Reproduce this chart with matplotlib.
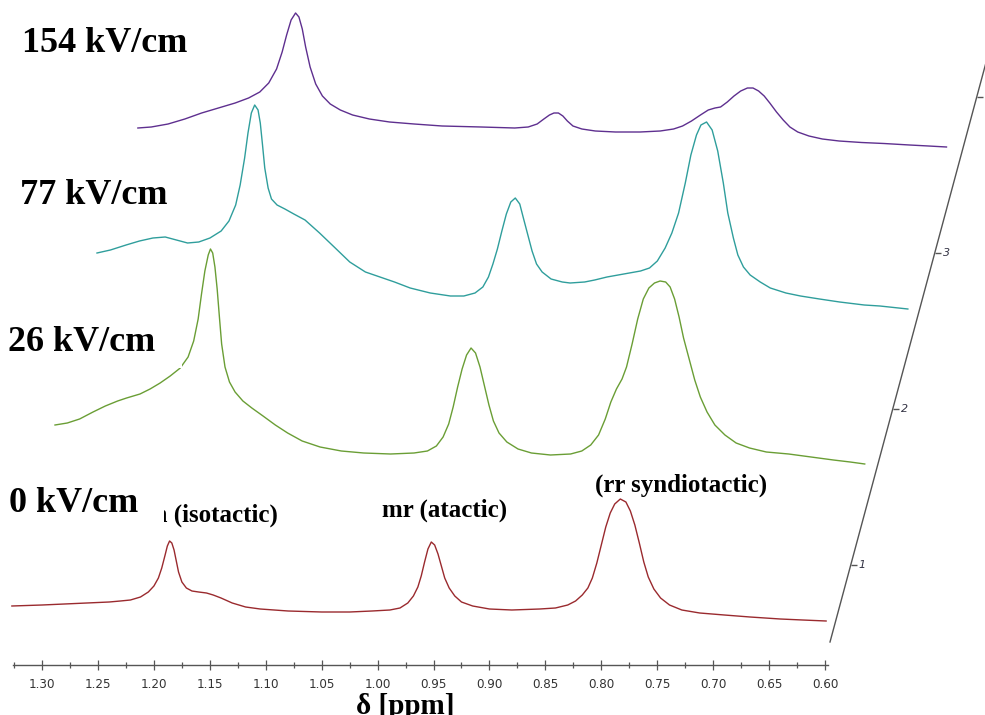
import numpy as np
import matplotlib
matplotlib.use("Agg")
import matplotlib.pyplot as plt
from matplotlib.transforms import Affine2D, offset_copy
from matplotlib.patches import Rectangle
from matplotlib.path import Path

# ---- spectra: shift (ppm) and intensity (a.u.) ----
ppm_0 = [1.327, 1.300, 1.280, 1.260, 1.240, 1.230, 1.221, 1.212, 1.205, 1.200, 1.196, 1.193, 1.190,
         1.188, 1.186, 1.184, 1.182, 1.180, 1.178, 1.175, 1.171, 1.166, 1.160, 1.153, 1.147, 1.140,
         1.130, 1.118, 1.105, 1.080, 1.050, 1.025, 1.005, 0.989, 0.980, 0.973, 0.968, 0.964, 0.961,
         0.958, 0.955, 0.952, 0.949, 0.946, 0.943, 0.940, 0.936, 0.931, 0.925, 0.915, 0.900, 0.880,
         0.855, 0.841, 0.830, 0.823, 0.817, 0.812, 0.808, 0.804, 0.800, 0.796, 0.792, 0.788, 0.783,
         0.778, 0.774, 0.770, 0.766, 0.762, 0.758, 0.753, 0.747, 0.739, 0.728, 0.712, 0.690, 0.667,
         0.640, 0.620, 0.599]
int_0 = [0.19, 0.20, 0.21, 0.22, 0.23, 0.24, 0.25, 0.28, 0.33, 0.39, 0.47, 0.57, 0.70,
         0.79, 0.84, 0.82, 0.75, 0.64, 0.53, 0.43, 0.37, 0.34, 0.33, 0.32, 0.30, 0.27,
         0.22, 0.18, 0.16, 0.14, 0.13, 0.13, 0.14, 0.15, 0.17, 0.22, 0.29, 0.38, 0.49,
         0.63, 0.76, 0.83, 0.80, 0.71, 0.59, 0.47, 0.37, 0.29, 0.23, 0.19, 0.16, 0.15,
         0.16, 0.17, 0.20, 0.24, 0.30, 0.37, 0.47, 0.62, 0.80, 0.98, 1.12, 1.21, 1.26,
         1.23, 1.14, 1.00, 0.82, 0.63, 0.48, 0.36, 0.27, 0.20, 0.15, 0.12, 0.10, 0.08,
         0.06, 0.05, 0.04]

ppm_26 = [1.326, 1.315, 1.304, 1.292, 1.281, 1.270, 1.262, 1.250, 1.241, 1.232, 1.223, 1.214, 1.207,
          1.202, 1.198, 1.195, 1.192, 1.189, 1.187, 1.185, 1.183, 1.181, 1.179, 1.177, 1.174, 1.170,
          1.165, 1.158, 1.150, 1.140, 1.129, 1.118, 1.105, 1.089, 1.070, 1.050, 1.026, 1.005, 0.993,
          0.985, 0.979, 0.974, 0.970, 0.966, 0.962, 0.958, 0.954, 0.950, 0.946, 0.942, 0.938, 0.934,
          0.929, 0.922, 0.912, 0.900, 0.883, 0.865, 0.855, 0.847, 0.840, 0.834, 0.829, 0.824, 0.819,
          0.815, 0.810, 0.805, 0.800, 0.795, 0.790, 0.785, 0.780, 0.776, 0.772, 0.768, 0.764, 0.759,
          0.754, 0.749, 0.743, 0.736, 0.727, 0.717, 0.705, 0.690, 0.670, 0.650, 0.630, 0.615, 0.602]
int_26 = [0.44, 0.46, 0.50, 0.57, 0.63, 0.68, 0.71, 0.75, 0.80, 0.86, 0.93, 1.01, 1.12,
          1.28, 1.50, 1.75, 1.98, 2.14, 2.20, 2.16, 2.02, 1.80, 1.52, 1.25, 1.02, 0.87,
          0.77, 0.68, 0.61, 0.53, 0.44, 0.36, 0.28, 0.22, 0.18, 0.16, 0.15, 0.16, 0.18,
          0.23, 0.32, 0.45, 0.62, 0.82, 1.00, 1.14, 1.21, 1.16, 1.02, 0.83, 0.64, 0.48,
          0.36, 0.27, 0.20, 0.16, 0.14, 0.15, 0.18, 0.24, 0.34, 0.50, 0.67, 0.80, 0.90,
          1.02, 1.25, 1.50, 1.70, 1.81, 1.86, 1.88, 1.87, 1.82, 1.70, 1.52, 1.31, 1.10,
          0.89, 0.72, 0.57, 0.44, 0.34, 0.26, 0.21, 0.17, 0.15, 0.12, 0.09, 0.07, 0.05]

ppm_77 = [1.326, 1.314, 1.300, 1.288, 1.276, 1.265, 1.255, 1.245, 1.235, 1.225, 1.215, 1.208, 1.202,
          1.198, 1.194, 1.191, 1.188, 1.185, 1.182, 1.180, 1.178, 1.176, 1.173, 1.170, 1.165, 1.158,
          1.150, 1.140, 1.127, 1.113, 1.100, 1.086, 1.073, 1.060, 1.046, 1.028, 1.010, 0.998, 0.988,
          0.981, 0.976, 0.972, 0.968, 0.964, 0.960, 0.956, 0.952, 0.948, 0.945, 0.941, 0.937, 0.933,
          0.928, 0.920, 0.910, 0.903, 0.890, 0.881, 0.870, 0.860, 0.850, 0.840, 0.832, 0.825, 0.818,
          0.812, 0.806, 0.800, 0.795, 0.790, 0.786, 0.781, 0.776, 0.771, 0.766, 0.762, 0.757, 0.753,
          0.748, 0.742, 0.733, 0.724, 0.710, 0.697, 0.680, 0.662, 0.640, 0.626, 0.601]
int_77 = [0.60, 0.63, 0.68, 0.72, 0.75, 0.76, 0.73, 0.70, 0.71, 0.75, 0.82, 0.92, 1.08,
          1.28, 1.55, 1.80, 2.00, 2.08, 2.03, 1.90, 1.68, 1.45, 1.25, 1.14, 1.08, 1.04,
          0.99, 0.93, 0.80, 0.65, 0.51, 0.41, 0.36, 0.31, 0.25, 0.20, 0.17, 0.17, 0.20,
          0.26, 0.36, 0.49, 0.64, 0.82, 0.99, 1.11, 1.15, 1.09, 0.96, 0.79, 0.62, 0.49,
          0.41, 0.34, 0.31, 0.30, 0.31, 0.33, 0.36, 0.38, 0.40, 0.42, 0.45, 0.52, 0.65,
          0.80, 1.00, 1.30, 1.58, 1.78, 1.88, 1.91, 1.83, 1.62, 1.30, 1.00, 0.75, 0.58,
          0.46, 0.38, 0.31, 0.25, 0.20, 0.17, 0.14, 0.11, 0.08, 0.07, 0.04]

ppm_154 = [1.327, 1.315, 1.300, 1.285, 1.270, 1.255, 1.240, 1.228, 1.218, 1.210, 1.203, 1.198, 1.194,
           1.190, 1.186, 1.183, 1.180, 1.177, 1.173, 1.168, 1.162, 1.155, 1.146, 1.135, 1.120, 1.102,
           1.080, 1.055, 1.020, 0.990, 0.978, 0.970, 0.964, 0.959, 0.955, 0.951, 0.947, 0.943, 0.938,
           0.930, 0.918, 0.900, 0.878, 0.860, 0.848, 0.840, 0.832, 0.824, 0.817, 0.811, 0.806, 0.800,
           0.794, 0.788, 0.782, 0.777, 0.772, 0.767, 0.762, 0.756, 0.750, 0.744, 0.737, 0.727, 0.715,
           0.700, 0.680, 0.660, 0.637, 0.620, 0.604]
int_154 = [0.29, 0.30, 0.33, 0.38, 0.44, 0.49, 0.54, 0.59, 0.65, 0.74, 0.88, 1.05, 1.22,
           1.37, 1.44, 1.40, 1.28, 1.10, 0.90, 0.73, 0.61, 0.53, 0.47, 0.42, 0.38, 0.35,
           0.33, 0.31, 0.30, 0.29, 0.30, 0.33, 0.38, 0.42, 0.44, 0.44, 0.41, 0.36, 0.31,
           0.28, 0.26, 0.25, 0.25, 0.26, 0.28, 0.31, 0.36, 0.42, 0.47, 0.49, 0.50, 0.55,
           0.61, 0.66, 0.69, 0.69, 0.66, 0.61, 0.54, 0.45, 0.37, 0.30, 0.25, 0.21, 0.18,
           0.16, 0.145, 0.135, 0.12, 0.11, 0.10]

fields = ["0 kV/cm", "26 kV/cm", "77 kV/cm", "154 kV/cm"]
colors = ["#9a2a2e", "#6a9e35", "#2f9e9c", "#5e2f8f"]
xticks = [1.30, 1.25, 1.20, 1.15, 1.10, 1.05, 1.00, 0.95, 0.90, 0.85, 0.80, 0.75, 0.70, 0.65, 0.60]
ztick_labels = ["1", "2", "3", "4"]

spectra = [(ppm_0, int_0), (ppm_26, int_26), (ppm_77, int_77), (ppm_154, int_154)]

W, H = 985, 715
fig = plt.figure(figsize=(W / 100, H / 100), dpi=100)
ax = fig.add_axes([13 / W, 50 / H, 815 / W, 655 / H])
ax.set_xlim(1.326, 0.5973)
ax.set_ylim(-0.40, 6.15)

# each trace is pushed right/up along the oblique depth axis
dppm, dI = 0.03755, 1.56
for k, (x, y) in enumerate(spectra):
    tr = Affine2D().translate(-k * dppm, k * dI) + ax.transData
    ax.plot(x, y, color=colors[k], lw=1.0, transform=tr, clip_on=False, zorder=2,
            solid_joinstyle="round")

# bottom axis
for s in ["left", "right", "top"]:
    ax.spines[s].set_visible(False)
ax.spines["bottom"].set_color("#555555")
ax.spines["bottom"].set_linewidth(1.0)
ax.set_yticks([])
ax.set_xticks(xticks)
ax.set_xticklabels(["%.2f" % t for t in xticks], family=["DejaVu Sans"], stretch="condensed",
                   fontsize=9.5, color="#333333")
ax.set_xticks(np.arange(0.625, 1.326, 0.05), minor=True)
ax.tick_params(axis="x", which="major", direction="inout", length=7, width=0.9, color="#555555", pad=6)
ax.tick_params(axis="x", which="minor", direction="inout", length=5, width=0.9, color="#555555")
ax.patch.set_visible(False)

# oblique depth axis: z -> data coordinates of the first trace
x0, y0, z0 = 0.5955, -0.17, 0.506
tz = Affine2D.from_values(-dppm, dI, 0, 1, x0 + z0 * dppm, y0 - z0 * dI) + ax.transData
ax.plot([z0, 4.35], [0, 0], color="#555555", lw=1.0, transform=tz, clip_on=False)
tick_marker = Path([(0, 0), (1, 0)], [Path.MOVETO, Path.LINETO])
zt = [1, 2, 3, 4]
ax.plot(zt, [0] * 4, ls="none", marker=tick_marker, ms=9, mec="#555555", mew=1.0,
        transform=tz, clip_on=False)
lab_tr = offset_copy(tz, fig=fig, x=8, y=0, units="dots")
for z, t in zip(zt, ztick_labels):
    ax.text(z, 0, t, transform=lab_tr, fontsize=8, style="italic", color="#333344",
            ha="left", va="center", clip_on=False)


def px(x, y):
    return x / W, 1 - y / H


serif = ["Liberation Serif", "DejaVu Serif"]

# peak labels
fig.text(*px(278, 515), "mm (isotactic)", family=serif, weight="bold", fontsize=18,
         ha="right", va="center", zorder=3)
fig.text(*px(382, 510), "mr (atactic)", family=serif, weight="bold", fontsize=18,
         ha="left", va="center")
fig.text(*px(595, 485), "(rr syndiotactic)", family=serif, weight="bold", fontsize=18,
         ha="left", va="center")

# white patches that hide parts of the underlying picture
fig.add_artist(Rectangle(px(0, 535), 164 / W, 58 / H, transform=fig.transFigure,
                         facecolor="white", edgecolor="none", zorder=4))
fig.add_artist(Rectangle(px(0, 368), 182 / W, 12 / H, transform=fig.transFigure,
                         facecolor="white", edgecolor="none", zorder=4))

# field labels
label_pos = [(9, 503), (8, 342), (20, 195), (22, 43)]
for (lx, ly), f in zip(label_pos, fields):
    fig.text(*px(lx, ly), f, family=serif, weight="bold", fontsize=26, ha="left", va="center",
             zorder=5)

fig.text(*px(405, 693), "\u03b4 [ppm]", family=serif, weight="bold", fontsize=21,
         ha="center", va="top")

fig.savefig("out.png", dpi=100, facecolor="white")
